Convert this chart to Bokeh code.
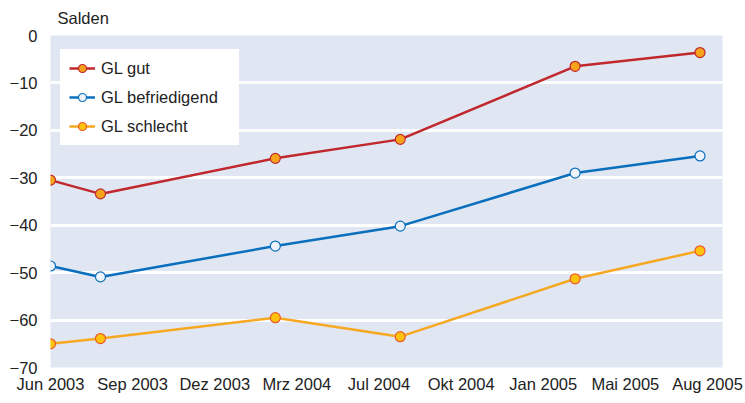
import numpy as np
from bokeh.plotting import figure
from bokeh.models import FixedTicker, Legend, LegendItem, Range1d
from bokeh.embed import file_html
from bokeh.resources import INLINE

# ---- data ----
survey_dates = [(2003, 6), (2003, 8), (2004, 3), (2004, 8), (2005, 3), (2005, 8)]
gl_gut = [-30.5, -33.4, -25.9, -21.9, -6.5, -3.6]
gl_befriedigend = [-48.6, -50.9, -44.4, -40.2, -29.0, -25.4]
gl_schlecht = [-65.0, -63.9, -59.5, -63.5, -51.3, -45.4]
x_tick_labels = ["Jun 2003", "Sep 2003", "Dez 2003", "Mrz 2004", "Jul 2004",
                 "Okt 2004", "Jan 2005", "Mai 2005", "Aug 2005"]
y_ticks = [0, -10, -20, -30, -40, -50, -60, -70]

# months since Jun 2003
x = [(y - 2003) * 12 + (m - 6) for y, m in survey_dates]

FONT = "Liberation Sans"
FS = "16.5px"
TXT = "#222222"

p = figure(width=745, height=403, output_backend="svg", toolbar_location=None,
           x_range=Range1d(0, 26.9), y_range=Range1d(-70, 0),
           min_border_left=50, min_border_right=23, min_border_top=34,
           min_border_bottom=36)

p.background_fill_color = "#e0e7f3"
p.border_fill_color = "white"
p.outline_line_color = None

p.title.text = "Salden"
p.title.text_font = FONT
p.title.text_font_size = FS
p.title.text_font_style = "normal"
p.title.text_color = TXT
p.title.align = "left"
p.title.vertical_align = "middle"
p.title.offset = 7
p.title.standoff = 15

# axes
tick_pos = [round(v, 3) for v in np.linspace(0, 26.3, len(x_tick_labels))]
p.xaxis.ticker = FixedTicker(ticks=tick_pos)
p.xaxis.major_label_overrides = {float(t): lab for t, lab in zip(tick_pos, x_tick_labels)}
p.yaxis.ticker = FixedTicker(ticks=y_ticks)
for ax in (p.xaxis[0], p.yaxis[0]):
    ax.axis_line_color = None
    ax.major_tick_line_color = None
    ax.minor_tick_line_color = None
    ax.major_tick_out = 0
    ax.major_tick_in = 0
    ax.major_label_text_font = FONT
    ax.major_label_text_font_size = FS
    ax.major_label_text_color = TXT
p.xaxis.major_label_standoff = 7
p.yaxis.major_label_standoff = 13

p.xgrid.visible = False
p.ygrid.grid_line_color = "white"
p.ygrid.grid_line_width = 3

series = [
    ("GL gut", gl_gut, "#c0282d", "#f7a21b", "#c0282d"),
    ("GL befriedigend", gl_befriedigend, "#0a6fbd", "#eef3fb", "#0a6fbd"),
    ("GL schlecht", gl_schlecht, "#f7a823", "#ffc20e", "#ec5a2a"),
]

items = []
for name, vals, lc, fc, mc in series:
    lr = p.line(x, vals, line_color=lc, line_width=2.5)
    sr = p.scatter(x, vals, size=10, fill_color=fc, line_color=mc, line_width=1.2)
    items.append(LegendItem(label=name, renderers=[lr, sr]))

legend = Legend(items=items, location=(10, 222))
legend.background_fill_color = "white"
legend.background_fill_alpha = 1
legend.border_line_color = "white"
legend.border_line_width = 1
legend.padding = 8
legend.spacing = 9
legend.glyph_width = 26
legend.glyph_height = 20
legend.label_height = 20
legend.label_width = 129
legend.label_standoff = 6
legend.label_text_font = FONT
legend.label_text_font_size = FS
legend.label_text_color = TXT
p.add_layout(legend, "center")

open("out.html", "w").write(file_html(p, INLINE))
